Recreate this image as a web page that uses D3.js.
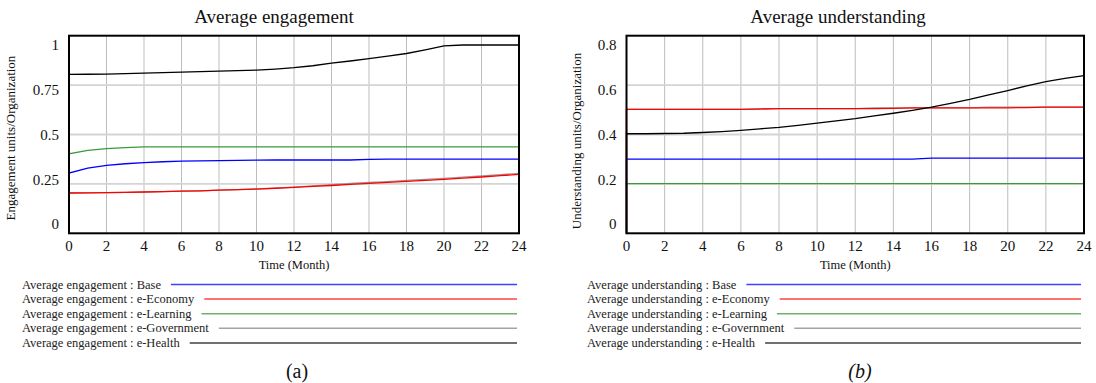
<!DOCTYPE html>
<html>
<head>
<meta charset="utf-8">
<script src="https://cdn.jsdelivr.net/npm/d3@7"></script>
<style>
  html, body { margin: 0; padding: 0; background: #fff; }
  svg { display: block; font-family: "Liberation Serif", "Times New Roman", serif; }
</style>
</head>
<body>
<svg id="chart" width="1096" height="383"></svg>
<script>
// months of the simulation (every line starts at 0 on month 0, then jumps to its first value)
const months = d3.range(0, 25);
const scenarios = ["Base", "e-Economy", "e-Learning", "e-Government", "e-Health"];
const colors = ["#0000ff", "#ff0000", "#3a9a3a", "#999999", "#000000"];

// Average engagement (a)
const engBase = [0.305, 0.330, 0.344, 0.352, 0.358, 0.362, 0.365, 0.367, 0.368, 0.369, 0.370, 0.371, 0.371,
  0.371, 0.371, 0.371, 0.374, 0.375, 0.375, 0.375, 0.375, 0.375, 0.375, 0.375, 0.375];
const engEconomy = [0.204, 0.205, 0.206, 0.207, 0.209, 0.211, 0.213, 0.215, 0.218, 0.221, 0.224, 0.228, 0.232,
  0.237, 0.242, 0.248, 0.253, 0.258, 0.263, 0.268, 0.273, 0.279, 0.285, 0.292, 0.298];
const engLearning = [0.402, 0.420, 0.429, 0.434, 0.437, 0.437, 0.437, 0.437, 0.437, 0.437, 0.437, 0.437, 0.437,
  0.437, 0.437, 0.437, 0.437, 0.437, 0.437, 0.437, 0.437, 0.437, 0.437, 0.437, 0.437];
const engGovernment = [0.204, 0.205, 0.206, 0.207, 0.209, 0.211, 0.213, 0.215, 0.218, 0.221, 0.225, 0.229, 0.234,
  0.240, 0.246, 0.252, 0.257, 0.262, 0.268, 0.273, 0.278, 0.284, 0.290, 0.297, 0.303];
const engHealth = [0.804, 0.805, 0.806, 0.808, 0.811, 0.813, 0.816, 0.818, 0.821, 0.823, 0.826, 0.831, 0.838,
  0.848, 0.861, 0.872, 0.884, 0.897, 0.910, 0.928, 0.948, 0.953, 0.953, 0.953, 0.953];

// Average understanding (b)
const undBase = [0.300, 0.300, 0.300, 0.300, 0.300, 0.300, 0.300, 0.300, 0.300, 0.300, 0.300, 0.300, 0.300,
  0.300, 0.300, 0.300, 0.304, 0.304, 0.304, 0.304, 0.304, 0.304, 0.304, 0.304, 0.304];
const undEconomy = [0.502, 0.502, 0.502, 0.502, 0.502, 0.502, 0.502, 0.503, 0.505, 0.505, 0.505, 0.505, 0.505,
  0.505, 0.506, 0.508, 0.508, 0.508, 0.508, 0.508, 0.508, 0.509, 0.511, 0.511, 0.511];
const undLearning = [0.201, 0.201, 0.201, 0.201, 0.201, 0.201, 0.201, 0.201, 0.201, 0.201, 0.201, 0.201, 0.201,
  0.201, 0.201, 0.201, 0.201, 0.201, 0.201, 0.201, 0.201, 0.201, 0.201, 0.201, 0.201];
const undGovernment = [0.502, 0.502, 0.502, 0.502, 0.502, 0.502, 0.502, 0.505, 0.505, 0.505, 0.505, 0.505, 0.505,
  0.508, 0.508, 0.508, 0.508, 0.508, 0.508, 0.511, 0.511, 0.511, 0.511, 0.511, 0.511];
const undHealth = [0.403, 0.403, 0.404, 0.405, 0.408, 0.412, 0.417, 0.423, 0.429, 0.437, 0.446, 0.455, 0.464,
  0.475, 0.486, 0.498, 0.511, 0.526, 0.542, 0.560, 0.578, 0.597, 0.614, 0.627, 0.638];

const xTicks = d3.range(0, 25, 2);
const engTicks = [0, 0.25, 0.5, 0.75, 1];
const undTicks = [0, 0.2, 0.4, 0.6, 0.8];

const svg = d3.select("#chart");
const plotTop = 35.7, plotBottom = 233.3;

const panels = [
  { title: "Average engagement", ylabel: "Engagement units/Organization", name: "Average engagement",
    caption: "(a)", italic: false, x0: 69, x1: 519, ticks: engTicks, titleX: 274, ylabelX: 15, ylabelY: 138,
    legendX: 22, legendEnd: 517, captionX: 297,
    series: [engBase, engEconomy, engLearning, engGovernment, engHealth] },
  { title: "Average understanding", ylabel: "Understanding units/Organization", name: "Average understanding",
    caption: "(b)", italic: true, x0: 626.5, x1: 1084, ticks: undTicks, titleX: 838, ylabelX: 581, ylabelY: 141,
    legendX: 587, legendEnd: 1081, captionX: 860,
    series: [undBase, undEconomy, undLearning, undGovernment, undHealth] }
];

// gray drawn under red, as in the picture
const drawOrder = [0, 3, 1, 2, 4];

panels.forEach(p => {
  const ymax = d3.max(p.ticks);
  const x = d3.scaleLinear().domain([0, 24]).range([p.x0, p.x1]);
  const y = d3.scaleLinear().domain([0, ymax]).range([plotBottom, plotTop]);
  // tick labels sit inside the frame ends, spread evenly
  const yLab = d3.scaleLinear().domain([0, ymax]).range([plotBottom - 9.3, plotTop + 9.3]);
  const g = svg.append("g");

  // grid
  g.selectAll(".vg").data(xTicks.slice(1, -1)).enter().append("line")
    .attr("x1", d => x(d)).attr("x2", d => x(d))
    .attr("y1", plotTop).attr("y2", plotBottom)
    .attr("stroke", "#bdbdbd").attr("stroke-width", 1);
  g.selectAll(".hg").data(p.ticks.slice(1, -1)).enter().append("line")
    .attr("x1", p.x0).attr("x2", p.x1)
    .attr("y1", d => y(d)).attr("y2", d => y(d))
    .attr("stroke", "#d4d4d4").attr("stroke-width", 1.8);

  // series
  const line = d3.line().x(d => x(d[0])).y(d => y(d[1]));
  drawOrder.forEach(i => {
    const pts = [[0, 0]].concat(months.map((m, k) => [m, p.series[i][k]]));
    g.append("path").datum(pts)
      .attr("fill", "none")
      .attr("stroke", colors[i])
      .attr("stroke-width", 1.3)
      .attr("d", line);
  });

  // frame
  g.append("rect")
    .attr("x", p.x0).attr("y", plotTop)
    .attr("width", p.x1 - p.x0).attr("height", plotBottom - plotTop)
    .attr("fill", "none").attr("stroke", "#000").attr("stroke-width", 2);

  // axes labels
  g.selectAll(".xt").data(xTicks).enter().append("text")
    .attr("x", d => x(d)).attr("y", 250.5)
    .attr("text-anchor", "middle").attr("font-size", 15).attr("fill", "#111")
    .text(d => d);
  g.selectAll(".yt").data(p.ticks).enter().append("text")
    .attr("x", p.x0 - 10).attr("y", d => yLab(d)).attr("dy", "0.35em")
    .attr("text-anchor", "end").attr("font-size", 15).attr("fill", "#111")
    .text(d => String(d));

  g.append("text")
    .attr("x", p.titleX).attr("y", 23)
    .attr("text-anchor", "middle").attr("font-size", 19).attr("fill", "#111")
    .text(p.title);
  g.append("text")
    .attr("x", (p.x0 + p.x1) / 2).attr("y", 269)
    .attr("text-anchor", "middle").attr("font-size", 12.5).attr("fill", "#111")
    .text("Time (Month)");
  g.append("text")
    .attr("transform", `translate(${p.ylabelX},${p.ylabelY}) rotate(-90)`)
    .attr("text-anchor", "middle").attr("font-size", 13).attr("fill", "#111")
    .text(p.ylabel);

  // legend
  scenarios.forEach((s, i) => {
    const cy = 284.5 + i * 14.6;
    const t = g.append("text")
      .attr("x", p.legendX).attr("y", cy + 4)
      .attr("font-size", 12.5).attr("fill", "#222")
      .text(`${p.name} : ${s}`);
    const w = t.node().getComputedTextLength();
    g.append("line")
      .attr("x1", p.legendX + w + 10).attr("x2", p.legendEnd)
      .attr("y1", cy).attr("y2", cy)
      .attr("stroke", colors[i]).attr("stroke-width", 1.5)
      .attr("stroke-opacity", i === 3 ? 0.9 : 0.75);
  });

  g.append("text")
    .attr("x", p.captionX).attr("y", 378)
    .attr("text-anchor", "middle").attr("font-size", 20).attr("fill", "#111")
    .attr("font-style", p.italic ? "italic" : "normal")
    .text(p.caption);
});
</script>
</body>
</html>
